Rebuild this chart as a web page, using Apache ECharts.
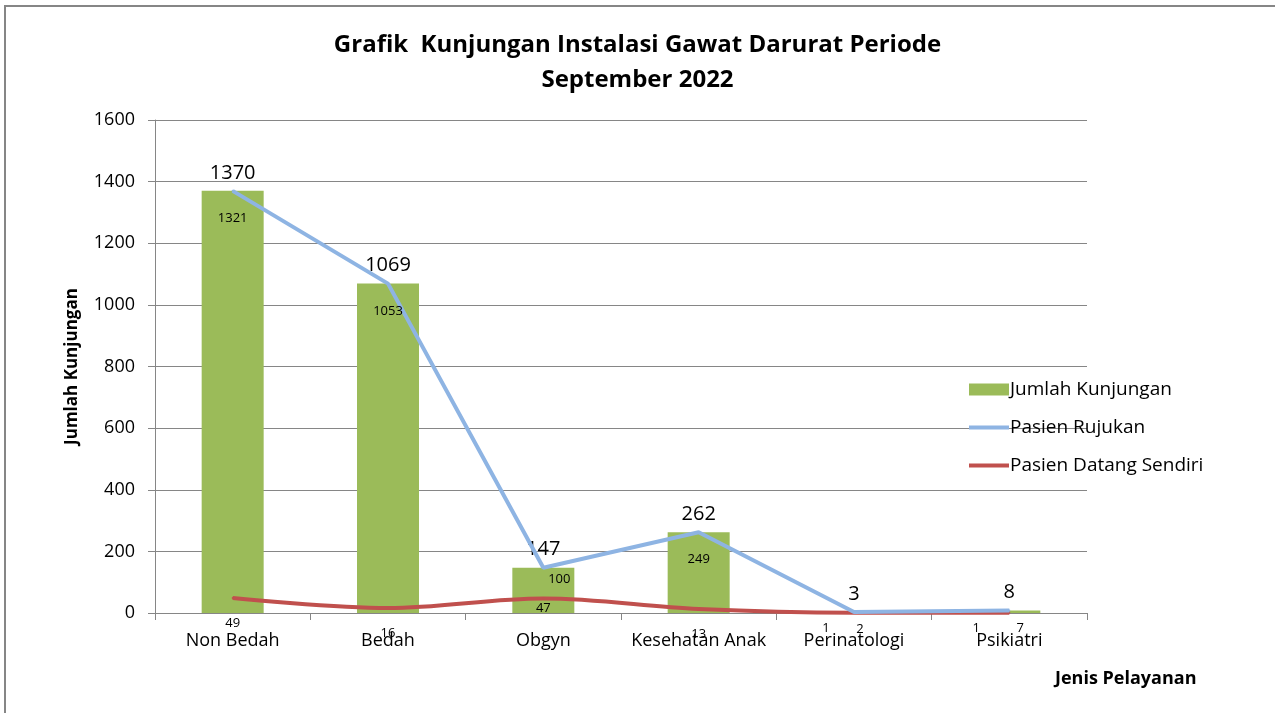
<!DOCTYPE html>
<html>
<head>
<meta charset="utf-8">
<script src="https://cdn.jsdelivr.net/npm/echarts@6/dist/echarts.min.js"></script>
<style>
  html, body { margin: 0; padding: 0; background: #fff; }
  #chart { width: 1275px; height: 713px; }
</style>
</head>
<body>
<div id="chart"></div>
<script>
// categories and values
const categories = ['Non Bedah', 'Bedah', 'Obgyn', 'Kesehatan Anak', 'Perinatologi', 'Psikiatri'];
const jumlahKunjungan = [1370, 1069, 147, 262, 3, 8];
const pasienRujukan = [1321, 1053, 100, 249, 2, 7];
const pasienDatangSendiri = [49, 16, 47, 13, 1, 1];
const yTicks = [0, 200, 400, 600, 800, 1000, 1200, 1400, 1600];

// label nudges, like the hand-moved labels in the original
const rujukanShift = [[0, 0], [0, 0], [16, -16], [0, 0], [6, -10], [11, -10]];
const sendiriShift = [[0, 0], [0, 0], [0, -16], [0, 0], [-28, -10], [-33, -10]];

const font = 'Open Sans, Liberation Sans, sans-serif';
const lineIcon = 'path://M0,0 L40,0 L40,4 L0,4 Z';

const chart = echarts.init(document.getElementById('chart'));

function lineData(values, shift) {
    return values.map((v, i) => ({ value: v, label: { offset: shift[i] } }));
}

const option = {
    animation: false,
    backgroundColor: '#fff',
    title: {
        text: 'Grafik  Kunjungan Instalasi Gawat Darurat Periode\nSeptember 2022',
        left: 'center',
        top: 23,
        textStyle: {
            fontFamily: font,
            fontSize: 24,
            fontWeight: 'bold',
            color: '#000',
            lineHeight: 35
        }
    },
    legend: {
        orient: 'vertical',
        left: 964,
        top: 375,
        itemWidth: 40,
        itemHeight: 12,
        itemGap: 19,
        data: [
            { name: 'Jumlah Kunjungan', icon: 'rect' },
            { name: 'Pasien Rujukan', icon: lineIcon, itemStyle: { color: '#8EB4E3', opacity: 1 } },
            { name: 'Pasien Datang Sendiri', icon: lineIcon, itemStyle: { color: '#C0504D', opacity: 1 } }
        ],
        textStyle: { fontFamily: font, fontSize: 19, color: '#000', padding: [0, 0, 0, -4] }
    },
    grid: { left: 155, right: 188, top: 120, bottom: 100 },
    xAxis: {
        type: 'category',
        data: categories,
        axisLine: { lineStyle: { color: '#868686' } },
        axisTick: { show: true, length: 7, lineStyle: { color: '#868686' } },
        axisLabel: { interval: 0, fontFamily: font, fontSize: 18, color: '#000', margin: 19 }
    },
    yAxis: {
        type: 'value',
        min: 0,
        max: yTicks[yTicks.length - 1],
        interval: yTicks[1] - yTicks[0],
        name: 'Jumlah Kunjungan',
        nameLocation: 'middle',
        nameGap: 74,
        nameTextStyle: { fontFamily: font, fontSize: 17, fontWeight: 'bold', color: '#000' },
        axisLine: { show: true, lineStyle: { color: '#868686' } },
        axisTick: { show: true, length: 7, lineStyle: { color: '#868686' } },
        axisLabel: { fontFamily: font, fontSize: 18, color: '#000', margin: 20, formatter: v => String(v) },
        splitLine: { lineStyle: { color: '#868686' } }
    },
    graphic: [
        {
            type: 'rect',
            shape: { x: 5, y: 6, width: 1300, height: 760 },
            style: { fill: 'none', stroke: '#868686', lineWidth: 2 },
            silent: true,
            z: -10
        },
        {
            type: 'text',
            left: 1055,
            top: 670,
            style: { text: 'Jenis Pelayanan', fontFamily: font, fontSize: 18, fontWeight: 'bold', fill: '#000' }
        }
    ],
    series: [
        {
            name: 'Jumlah Kunjungan',
            type: 'bar',
            data: jumlahKunjungan,
            barWidth: 62,
            itemStyle: { color: '#9BBB59' },
            label: { show: true, position: 'top', distance: 8, fontFamily: font, fontSize: 20, color: '#000' },
            z: 2
        },
        {
            name: 'Pasien Datang Sendiri',
            type: 'line',
            stack: 'pasien',
            smooth: 0.35,
            symbol: 'circle',
            symbolSize: 2,
            showSymbol: true,
            data: lineData(pasienDatangSendiri, sendiriShift),
            lineStyle: { color: '#C0504D', width: 4 },
            itemStyle: { color: '#C0504D' },
            label: { show: true, position: 'bottom', distance: 18, fontFamily: font, fontSize: 13, color: '#000' },
            z: 3
        },
        {
            name: 'Pasien Rujukan',
            type: 'line',
            stack: 'pasien',
            symbol: 'circle',
            symbolSize: 2,
            showSymbol: true,
            data: lineData(pasienRujukan, rujukanShift),
            lineStyle: { color: '#8EB4E3', width: 4 },
            itemStyle: { color: '#8EB4E3' },
            label: { show: true, position: 'bottom', distance: 20, fontFamily: font, fontSize: 13, color: '#000' },
            z: 4
        }
    ]
};

chart.setOption(option);
</script>
</body>
</html>
